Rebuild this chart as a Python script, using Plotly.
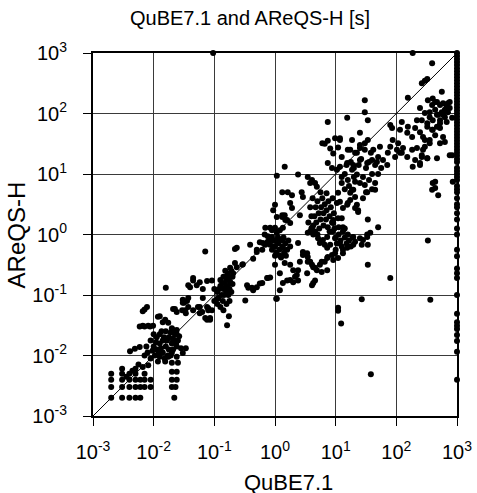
import numpy as np
import plotly.graph_objects as go

# Runtimes as log10(seconds): (QuBE7.1, AReQS-H) pairs grouped by region of the plot
ms_grid = [
    (-2.70, -2.70), (-2.52, -2.70), (-2.40, -2.70), (-2.30, -2.70), (-2.22, -2.70),
    (-2.70, -2.52), (-2.52, -2.52), (-2.40, -2.52), (-2.30, -2.52), (-2.22, -2.52), (-2.15, -2.52), (-2.05, -2.52),
    (-2.70, -2.40), (-2.52, -2.40), (-2.40, -2.40), (-2.30, -2.40), (-2.22, -2.40), (-2.15, -2.40), (-2.05, -2.40),
    (-2.70, -2.30), (-2.52, -2.30), (-2.40, -2.30), (-2.30, -2.30), (-2.15, -2.30),
    (-2.52, -2.22), (-2.30, -2.22),
    (-1.70, -2.12), (-1.60, -2.12), (-1.70, -2.27), (-1.62, -2.27), (-1.70, -2.40), (-1.62, -2.40),
    (-1.70, -2.52), (-1.64, -2.52), (-1.66, -2.70), (-1.72, -2.00), (-1.62, -2.02), (-1.68, -1.90),
    (-2.45, -2.35), (-2.35, -2.25), (-2.25, -2.15), (-2.18, -2.19), (-2.09, -2.16),
]

cluster_centisecond = [
    (-2.15, -1.24), (-2.18, -1.51), (-2.09, -1.51), (-2.01, -1.51), (-1.90, -1.35), (-1.81, -1.41),
    (-1.76, -1.46), (-1.65, -1.23), (-1.52, -1.13), (-2.39, -1.93), (-2.31, -1.89), (-2.23, -1.86),
    (-2.05, -1.75), (-2.00, -1.85), (-1.95, -1.70), (-1.95, -1.90), (-1.90, -1.80), (-1.90, -1.65),
    (-1.85, -1.75), (-1.85, -1.95), (-1.80, -1.85), (-1.80, -1.60), (-1.75, -1.70), (-1.70, -1.80),
    (-1.70, -1.55), (-1.65, -1.65), (-2.10, -1.95), (-2.05, -2.05), (-1.98, -2.00), (-1.92, -1.95),
    (-1.88, -1.88), (-1.83, -1.70), (-1.78, -1.75), (-1.75, -1.90), (-1.72, -1.62), (-1.68, -1.72),
    (-1.62, -1.58), (-1.60, -1.75), (-1.58, -1.68), (-2.00, -1.65), (-1.96, -1.78), (-1.87, -1.60),
    (-2.12, -1.85), (-2.15, -2.00), (-1.93, -2.10), (-1.82, -2.05), (-1.77, -2.00), (-2.02, -1.92),
    (-1.90, -2.02), (-1.81, -2.10), (-1.76, -2.02), (-1.63, -1.79), (-1.55, -1.88), (-1.47, -1.88),
    (-1.52, -1.96), (-1.47, -1.30), (-1.35, -1.25), (-1.24, -1.20), (-1.10, -1.22), (-1.15, -1.38),
    (-1.07, -1.41), (-2.23, -1.52), (-2.15, -1.52), (-2.06, -1.52), (-1.93, -1.36), (-1.85, -1.45),
    (-1.68, -1.23), (-1.62, -1.28), (-1.50, -1.13), (-1.45, -1.10), (-1.48, -1.25), (-1.43, -1.20),
    (-1.43, -0.84), (-1.35, -0.76), (-1.24, -0.79), (-1.12, -0.77), (-1.04, -0.76), (-1.19, -0.90),
    (-1.27, -1.20), (-1.20, -1.28), (-1.10, -1.25), (-1.07, -1.38), (-1.12, -1.41), (-1.80, -0.88),
    (-2.11, -1.20), (-2.18, -1.27), (-1.15, -0.28), (-1.68, -1.58), (-1.62, -1.65), (-1.68, -1.75),
    (-1.62, -1.85), (-1.70, -1.95),
]

cluster_decisecond = [
    (-0.95, -0.95), (-0.90, -0.85), (-0.90, -0.75), (-0.88, -1.00), (-0.85, -0.90), (-0.85, -0.70),
    (-0.83, -0.80), (-0.82, -0.60), (-0.80, -0.95), (-0.80, -0.75), (-0.78, -0.85), (-0.78, -0.65),
    (-0.76, -0.70), (-0.75, -0.90), (-0.74, -0.78), (-0.72, -0.60), (-0.72, -0.95), (-0.70, -0.70),
    (-0.70, -0.82), (-0.92, -0.90), (-0.87, -0.80), (-0.84, -1.00), (-0.81, -0.88), (-0.77, -1.00),
    (-0.93, -1.05), (-0.86, -1.10), (-0.80, -1.15), (-0.75, -1.10), (-0.95, -1.15), (-0.90, -1.20),
    (-0.85, -1.25), (-1.00, -1.10), (-1.00, -0.90), (-0.79, -1.50), (-0.76, -1.35), (-0.63, -0.22),
    (-0.41, -0.17), (-0.30, -0.25), (-0.66, -0.47), (-0.54, -0.50), (-0.36, -0.40), (-0.46, -0.84),
    (-0.38, -0.88), (-0.36, -0.92), (-0.49, -1.09), (-0.44, -0.88), (-0.30, -0.87), (-0.25, -0.81),
    (-0.13, -0.72), (-0.08, -0.71), (-0.66, -0.24), (-0.53, -0.49), (-0.30, -0.29), (-0.21, -0.25),
    (-0.16, -0.17), (-0.12, -0.14), (-0.08, -0.09), (-0.05, -0.04), (-1.35, -0.72), (-1.40, -0.87),
    (-1.29, -0.84), (-1.52, -1.08), (-1.43, -1.05), (-1.53, -1.25), (-1.19, -1.05), (-1.12, -1.20),
    (-1.04, -1.25), (-1.24, -1.30), (-0.95, -1.06), (-0.74, -0.55), (-0.69, -0.64), (-0.63, -0.54),
]

cluster_one_second = [
    (-0.02, -0.10), (0.00, -0.20), (0.02, -0.30), (0.05, -0.05), (0.05, -0.15), (0.07, -0.25),
    (0.08, -0.35), (0.10, -0.10), (0.12, -0.20), (0.15, -0.30), (0.17, -0.15), (0.20, -0.25),
    (0.00, -0.35), (0.03, -0.12), (0.10, -0.38), (-0.05, -0.25), (0.14, -0.05), (0.18, -0.35),
    (0.22, -0.10), (0.25, -0.20), (0.03, 0.29), (0.12, 0.32), (0.17, 0.24), (0.00, 0.11),
    (0.08, 0.07), (0.25, -0.50), (0.30, -0.59), (0.36, -0.67), (0.20, -0.76), (0.30, -0.79),
    (0.38, -0.76), (0.08, -0.92), (0.03, -1.06), (0.38, -0.14), (-0.20, -0.14), (-0.12, -0.12),
    (-0.03, -0.20), (0.08, -0.09), (0.13, -0.22), (0.00, -0.50), (0.16, -0.47), (-0.12, -0.72),
    (-0.21, -0.80), (0.08, -0.64), (0.13, -0.80), (0.25, -0.75), (0.33, -0.70), (0.38, -0.59),
    (0.41, -0.45), (0.46, -0.34), (0.54, -0.45), (0.61, -0.50), (0.66, -0.55), (0.63, -0.80),
    (0.53, -0.31), (0.77, -0.45), (0.86, -0.39), (0.94, -0.34), (1.04, -0.39), (1.12, -0.31),
    (1.19, -0.22), (1.07, -0.14), (0.99, -0.06), (0.86, -0.04), (0.74, -0.14), (0.63, 0.00),
    (1.29, -0.04), (1.40, -0.06), (1.52, 0.00), (1.57, 0.03), (0.03, 0.03), (-0.17, 0.00),
]

cluster_ten_seconds = [
    (0.63, 0.15), (0.65, 0.30), (0.67, 0.45), (0.68, 0.20), (0.70, 0.55), (0.72, 0.35), (0.73, 0.10),
    (0.75, 0.25), (0.76, 0.45), (0.78, 0.60), (0.80, 0.15), (0.80, 0.35), (0.82, 0.50), (0.84, 0.25),
    (0.85, 0.40), (0.87, 0.12), (0.88, 0.55), (0.90, 0.30), (0.92, 0.45), (0.94, 0.20), (0.95, 0.60),
    (0.70, 0.00), (0.66, 0.05), (0.60, 0.30), (0.58, 0.45), (0.62, 0.60), (0.75, 0.70), (0.85, 0.68),
    (0.90, 0.05), (0.97, 0.35), (0.55, 0.20), (0.60, 0.10), (0.54, 0.95), (0.61, 0.90), (0.58, 0.85),
    (0.66, 0.85), (0.69, 0.79), (0.12, 0.70), (0.21, 0.70), (0.28, 0.65), (0.44, 0.70), (0.46, 0.62),
    (0.00, 0.49), (0.25, 0.52), (0.28, 0.44), (-0.03, 0.40), (0.12, 0.29), (0.16, 0.32), (0.20, 0.24),
    (0.25, 0.19), (0.41, 0.32), (-0.16, 0.11), (-0.08, 0.11), (-0.05, 0.07), (0.16, 1.12), (0.03, 0.97),
    (0.38, 0.99), (0.61, 0.11), (0.54, 0.03), (0.13, 0.11), (0.13, -0.08), (0.05, -0.13), (-0.08, -0.17),
    (-0.25, -0.13), (-0.12, -0.03), (0.78, 1.51), (0.87, 1.55), (0.91, 1.42), (0.82, 1.50), (0.96, 1.34),
    (1.04, 1.44), (0.99, 1.59), (1.07, 1.56), (1.27, 1.56), (1.40, 1.48), (1.48, 1.51), (1.53, 1.56),
    (1.40, 1.68), (1.24, 1.40), (1.35, 1.35), (1.48, 1.40), (0.87, 1.18), (0.94, 1.10), (1.02, 1.07),
    (1.07, 1.12), (1.27, 1.07), (1.35, 0.99), (1.45, 0.95), (1.40, 0.85), (1.48, 0.82), (1.32, 0.87),
    (1.27, 0.74), (1.32, 0.62), (1.24, 0.57), (1.35, 0.49), (1.37, 0.40), (1.04, 0.69), (1.07, 0.54),
    (1.19, 0.49), (1.12, 0.44), (1.04, 0.27), (0.96, 0.24), (1.10, 0.95), (1.15, 1.00), (1.20, 0.90),
    (1.18, 1.15), (1.25, 1.20), (1.30, 1.10), (1.22, 0.80), (1.15, 0.75), (1.10, 0.85), (1.30, 0.95),
    (1.38, 1.15), (1.42, 1.25), (1.50, 1.10), (1.55, 1.20), (1.58, 1.35), (1.60, 1.00), (1.55, 0.90),
    (1.50, 0.70), (1.45, 0.60), (1.60, 0.75), (1.65, 0.85), (1.70, 1.00), (1.68, 1.20), (1.75, 1.10),
    (0.87, 1.86), (1.19, 1.93), (1.48, 2.22), (1.48, 2.02), (1.53, 1.89), (1.07, 1.59),
]

cluster_lower_band = [
    (0.46, -0.29), (0.54, -0.37), (0.58, -0.45), (0.63, -0.54), (0.69, -0.59), (0.74, -0.50),
    (0.82, -0.45), (0.87, -0.37), (0.96, -0.42), (0.99, -0.31), (0.53, -0.64), (0.66, -0.76),
    (0.61, -0.84), (0.77, -0.62), (0.86, -0.59), (0.63, 0.03), (0.58, 0.05), (0.71, -0.06),
    (0.79, -0.09), (0.82, -0.17), (0.86, -0.22), (0.91, -0.17), (0.95, 0.05), (1.00, -0.05),
    (1.02, -0.15), (1.05, 0.00), (1.08, -0.10), (1.10, -0.20), (1.12, 0.05), (1.15, -0.05),
    (1.18, -0.15), (1.20, 0.00), (1.22, -0.10), (1.25, -0.20), (1.28, -0.05), (1.32, -0.12),
    (0.98, 0.10), (1.05, 0.12), (1.15, 0.10), (1.00, -0.25), (1.12, -0.25), (1.45, -0.09),
    (1.43, -0.17), (1.53, -0.17), (1.29, -0.17), (1.24, 0.69), (1.29, 0.74), (1.52, 0.70),
    (1.65, 0.74), (1.02, 0.52), (1.20, 0.52), (1.32, 0.44), (1.37, 0.37), (1.53, 0.25),
    (1.70, 0.12), (1.52, -0.04), (1.10, 0.27), (1.12, 0.12), (0.96, 0.19), (1.53, -0.50),
    (1.90, -0.72), (1.43, -1.07), (1.04, -1.21), (2.52, -0.10), (2.56, -1.08), (1.04, -1.26),
    (1.09, -1.47), (1.58, -2.31), (0.02, -1.06),
]

cluster_hundred_seconds = [
    (2.27, 3.00), (-1.02, 3.00), (2.59, 2.83), (2.42, 2.50), (2.47, 2.54), (2.51, 2.57), (2.19, 2.26),
    (2.52, 2.22), (2.64, 2.19), (2.59, 2.14), (2.72, 2.14), (2.85, 2.17), (2.80, 2.06), (2.88, 2.09),
    (2.77, 1.98), (2.67, 1.98), (2.72, 1.89), (2.83, 1.86), (2.92, 1.93), (2.39, 2.09), (2.47, 2.01),
    (2.55, 1.94), (2.34, 1.89), (2.31, 1.76), (2.39, 1.69), (2.26, 1.61), (2.18, 1.68), (2.09, 1.86),
    (2.06, 1.73), (2.19, 1.78), (1.90, 1.81), (1.93, 1.76), (2.51, 1.78), (2.60, 1.73), (2.72, 1.76),
    (2.64, 1.64), (2.77, 1.61), (2.47, 1.56), (2.55, 1.51), (2.72, 1.51), (2.34, 1.43), (2.44, 1.40),
    (2.31, 1.23), (2.42, 1.28), (2.39, 1.15), (2.88, 1.31), (2.80, 1.53), (1.94, 1.56), (2.03, 1.51),
    (2.11, 1.43), (2.01, 1.40), (1.90, 1.45), (2.09, 1.35), (2.18, 1.28), (1.98, 1.28), (1.86, 1.35),
    (1.62, 1.40), (1.73, 1.45), (1.70, 1.28), (1.60, 1.23), (1.78, 1.23), (1.85, 1.15), (1.65, 1.15),
    (1.52, 1.18), (1.40, 1.23), (1.32, 1.35), (1.40, 1.43), (1.20, 1.40), (1.10, 1.28), (1.19, 1.18),
    (1.29, 1.15), (2.75, 2.36), (2.06, 1.35), (2.26, 1.40), (2.27, 1.12), (2.39, 1.18), (2.51, 1.26),
    (2.67, 1.26), (2.64, 0.87), (2.69, 0.65), (2.59, 0.74), (2.93, 0.87), (2.92, 1.31), (2.60, 2.25),
    (2.67, 2.19), (2.77, 2.17), (2.83, 2.11), (2.88, 2.19), (2.55, 2.02), (2.64, 2.06), (2.69, 1.98),
    (2.75, 2.02), (2.80, 1.94), (2.85, 2.02), (2.42, 1.89), (2.51, 1.84), (2.60, 1.89), (2.67, 1.78),
    (2.59, 1.73), (2.72, 1.84), (2.44, 1.61), (2.55, 1.56), (2.47, 1.45), (2.42, 1.31), (2.51, 1.26),
    (2.60, 0.85), (2.64, 0.77),
]

# QuBE7.1 timed out (1000 s): AReQS-H log10 times
timeout_qube_areqs = [
    3.00, 2.95, 2.90, 2.85, 2.80, 2.75, 2.70, 2.65, 2.60, 2.55, 2.50, 2.45, 2.40, 2.35, 2.30, 2.25,
    2.20, 2.15, 2.10, 2.05, 2.00, 1.95, 1.90, 1.85, 1.80, 1.75, 1.70, 1.65, 1.60, 1.55, 1.50, 1.45,
    1.40, 1.35, 1.30, 1.25, 1.20, 1.10, 1.05, 1.00, 0.95, 0.90, 0.80, 0.75, 0.70, 0.60, 0.50, 0.45,
    0.35, 0.25, 0.10, 0.00, -0.25, -0.36, -0.56, -0.64, -0.72, -1.00, -1.31, -1.45, -1.51, -1.56,
    -1.66, -1.76, -1.94, -2.40,
]
timeout_qube_exp = 3.0

decades = [-3, -2, -1, 0, 1, 2, 3]
tick_text = ["10<sup>%d</sup>" % d for d in decades]

groups = [ms_grid, cluster_centisecond, cluster_decisecond, cluster_one_second,
          cluster_ten_seconds, cluster_lower_band, cluster_hundred_seconds]
qx = [p[0] for g in groups for p in g] + [timeout_qube_exp] * len(timeout_qube_areqs)
ay = [p[1] for g in groups for p in g] + list(timeout_qube_areqs)
qube = 10 ** np.array(qx)
areqs = 10 ** np.array(ay)

FONT = "Liberation Sans, Arial, sans-serif"

fig = go.Figure()
fig.add_trace(go.Scatter(
    x=[10.0 ** decades[0], 10.0 ** decades[-1]], y=[10.0 ** decades[0], 10.0 ** decades[-1]],
    mode="lines", line=dict(color="black", width=1), hoverinfo="skip", showlegend=False))
fig.add_trace(go.Scatter(
    x=qube, y=areqs, mode="markers", cliponaxis=False,
    marker=dict(color="black", size=6, line=dict(width=0)), showlegend=False))

axis_common = dict(
    type="log", range=[-3, 3], tickmode="array", automargin=False,
    tickvals=[10.0 ** d for d in decades], ticktext=tick_text,
    showgrid=True, gridcolor="#3a3a3a", gridwidth=1,
    showline=True, linecolor="black", linewidth=2, mirror=True,
    ticks="outside", ticklen=8, tickwidth=1, tickcolor="black",
    tickfont=dict(family=FONT, size=20, color="black"), zeroline=False,
)
fig.update_xaxes(**axis_common, ticklabelstandoff=9)
fig.update_yaxes(**axis_common, ticklabelstandoff=12)

fig.update_layout(
    width=477, height=493,
    margin=dict(l=93, r=20, t=53, b=77),
    paper_bgcolor="white", plot_bgcolor="white",
    font=dict(family=FONT, color="black"),
    annotations=[
        dict(text="QuBE7.1 and AReQS-H [s]", xref="paper", yref="paper", x=0.431, y=1.096,
             xanchor="center", yanchor="middle", showarrow=False, font=dict(size=20, family=FONT)),
        dict(text="QuBE7.1", xref="paper", yref="paper", x=0.536, y=-0.182,
             xanchor="center", yanchor="middle", showarrow=False, font=dict(size=22, family=FONT)),
        dict(text="AReQS-H", xref="paper", yref="paper", x=-0.209, y=0.5, textangle=-90,
             xanchor="center", yanchor="middle", showarrow=False, font=dict(size=24, family=FONT)),
    ],
)

fig.write_html("out.html", config={"displayModeBar": False},
               post_script="document.body.style.margin='0px';")
